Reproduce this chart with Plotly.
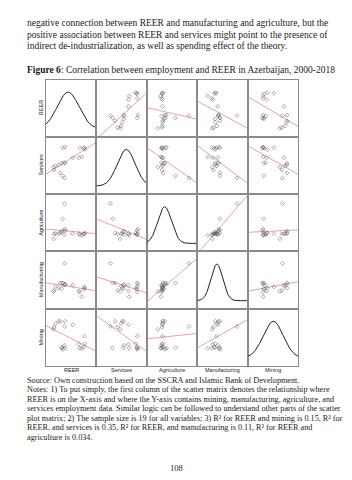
import numpy as np
import plotly.graph_objects as go

W, H = 352, 480

variables = ["REER", "Services", "Agriculture", "Manufacturing", "Mining"]
reer          = [33, 38, 67, 76, 77, 71, 65, 53, 38, 31, 25, 19, 15, 16, 28, 33, 37, 75, 36]
services      = [81, 82, 81, 81, 78, 65, 63.5, 63.5, 54, 54, 51, 49, 47, 42, 37, 32, 28, 80, 55]
agriculture   = [36.5, 39, 29, 31, 32, 28, 31, 31, 36, 34, 31, 31, 22, 30.5, 32, 57, 83.5, 30, 29]
manufacturing = [45, 43, 29, 38, 36, 21, 31, 41, 42, 35, 36, 39, 30, 32, 45, 45, 79, 34, 41]
mining        = [29, 31, 31, 52, 39, 31, 38, 72, 78, 32, 78, 74, 64, 68, 78, 32, 69, 33, 36]
data = [reer, services, agriculture, manufacturing, mining]

para_lines = [
    "negative connection between REER and manufacturing and agriculture, but the",
    "positive association between REER and services might point to the presence of",
    "indirect de-industrialization, as well as spending effect of the theory.",
]
caption = "<b>Figure 6</b>: Correlation between employment and REER in Azerbaijan, 2000-2018"
source = "Source: Own construction based on the SSCRA and Islamic Bank of Development."
notes_lines = [
    "Notes: 1) To put simply, the first column of the scatter matrix denotes the relationship where",
    "REER is on the X-axis and where the Y-axis contains mining, manufacturing, agriculture, and",
    "services employment data. Similar logic can be followed to understand other parts of the scatter",
    "plot matrix; 2) The sample size is 19 for all variables; 3) R\u00b2 for REER and mining is 0.15, R\u00b2 for",
    "REER, and services is 0.35, R\u00b2 for REER, and manufacturing is 0.11, R\u00b2 for REER and",
    "agriculture is 0.034.",
]
page_no = "108"

# grid geometry in pixels
col_edges = [46, 96.4, 146.8, 197.2, 247.6, 298]
row_edges = [79.5, 136.8, 194.1, 251.4, 308.7, 366]

fig = go.Figure()
n = len(variables)
lo, hi = 0, 100
for r in range(n):
    for c in range(n):
        idx = r * n + c + 1
        xa = "x" if idx == 1 else f"x{idx}"
        ya = "y" if idx == 1 else f"y{idx}"
        xv = np.array(data[c], float)
        yv = np.array(data[r], float)
        if r == c:
            mu, sd = xv.mean(), xv.std(ddof=1)
            gx = np.linspace(lo, hi, 200)
            pdf = np.exp(-0.5 * ((gx - mu) / sd) ** 2)
            gy = 14 + 64 * pdf
            fig.add_trace(go.Scatter(x=gx, y=gy, mode="lines", xaxis=xa, yaxis=ya,
                                     line=dict(color="#222", width=1), hoverinfo="skip"))
        else:
            b, a = np.polyfit(xv, yv, 1)
            lx = np.array([lo, hi])
            fig.add_trace(go.Scatter(x=lx, y=a + b * lx, mode="lines", xaxis=xa, yaxis=ya,
                                     line=dict(color="#e48a8a", width=0.8), hoverinfo="skip"))
            fig.add_trace(go.Scatter(x=xv, y=yv, mode="markers", xaxis=xa, yaxis=ya,
                                     marker=dict(symbol="diamond-open", size=3,
                                                 color="#555", line=dict(width=0.5, color="#555"))))
        axcommon = dict(range=[lo, hi], showgrid=False, zeroline=False, showticklabels=False,
                        ticks="", showline=True, mirror=True, linecolor="#8a8a8a", linewidth=1,
                        fixedrange=True)
        fig.layout[("xaxis" if idx == 1 else f"xaxis{idx}")] = dict(
            domain=[col_edges[c] / W, col_edges[c + 1] / W], anchor=ya, **axcommon)
        fig.layout[("yaxis" if idx == 1 else f"yaxis{idx}")] = dict(
            domain=[1 - row_edges[r + 1] / H, 1 - row_edges[r] / H], anchor=xa, **axcommon)

ann = []
def txt(s, x, y, size, family="Liberation Serif", xanchor="left", angle=0, color="#1a1a1a"):
    ann.append(dict(text=s, x=x / W, y=1 - y / H, xref="paper", yref="paper",
                    xanchor=xanchor, yanchor="middle", showarrow=False, textangle=angle,
                    font=dict(family=family, size=size, color=color)))

for i, s in enumerate(para_lines):
    txt(s, 25, 23 + i * 11.5, 9.5)
txt(caption, 25, 70, 9.5)
for r, v in enumerate(variables):
    txt(v, 41, (row_edges[r] + row_edges[r + 1]) / 2, 5.5, family="Liberation Sans",
        xanchor="center", angle=-90)
    txt(v, (col_edges[r] + col_edges[r + 1]) / 2, 370, 5.5, family="Liberation Sans",
        xanchor="center")
txt(source, 25, 380, 8.2)
for i, s in enumerate(notes_lines):
    txt(s, 25, 389.5 + i * 9.5, 8.2)
txt(page_no, 176, 468, 8.5, xanchor="center")

fig.update_layout(width=W, height=H, margin=dict(l=0, r=0, t=0, b=0),
                  paper_bgcolor="white", plot_bgcolor="white", showlegend=False,
                  annotations=ann)
fig.write_html("out.html")
